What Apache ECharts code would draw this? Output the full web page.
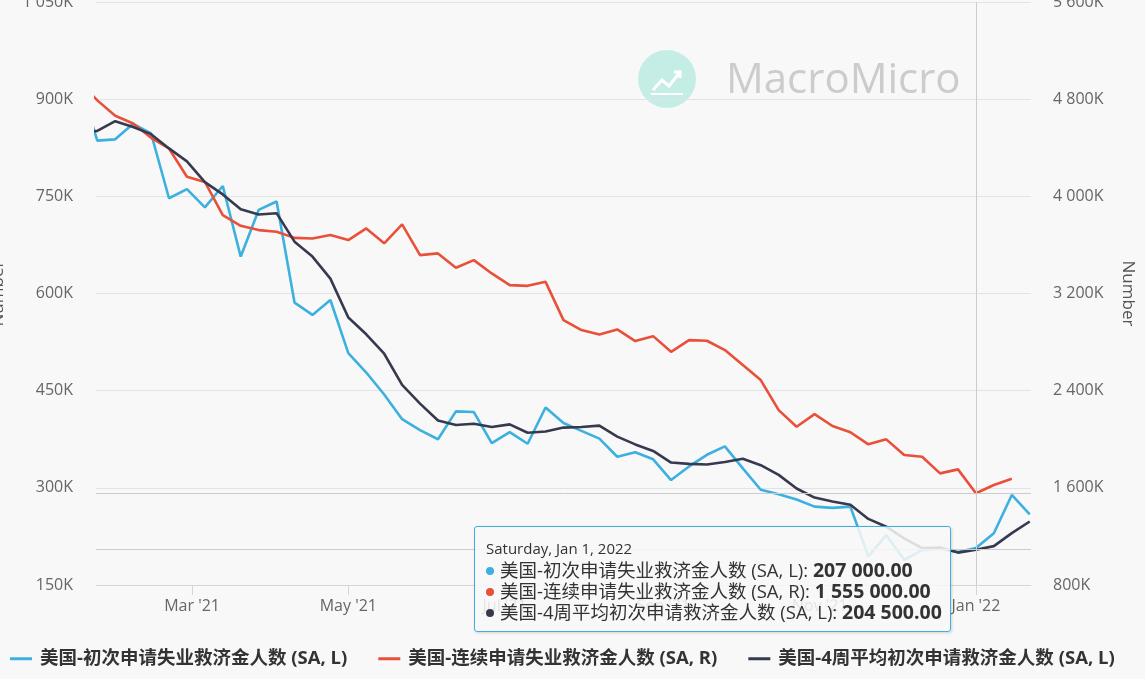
<!DOCTYPE html>
<html>
<head>
<meta charset="utf-8">
<script src="https://cdn.jsdelivr.net/npm/echarts@6/dist/echarts.min.js"></script>
<style>
html,body{margin:0;padding:0;background:#f8f8f8;}
#chart{width:1145px;height:679px;}
</style>
</head>
<body>
<div id="chart"></div>
<script>
// ---- data (values in thousands) ----
const dates = ['2021-01-16','2021-01-23','2021-01-30','2021-02-06','2021-02-13','2021-02-20','2021-02-27','2021-03-06','2021-03-13','2021-03-20','2021-03-27','2021-04-03','2021-04-10','2021-04-17','2021-04-24','2021-05-01','2021-05-08','2021-05-15','2021-05-22','2021-05-29','2021-06-05','2021-06-12','2021-06-19','2021-06-26','2021-07-03','2021-07-10','2021-07-17','2021-07-24','2021-07-31','2021-08-07','2021-08-14','2021-08-21','2021-08-28','2021-09-04','2021-09-11','2021-09-18','2021-09-25','2021-10-02','2021-10-09','2021-10-16','2021-10-23','2021-10-30','2021-11-06','2021-11-13','2021-11-20','2021-11-27','2021-12-04','2021-12-11','2021-12-18','2021-12-25','2022-01-01','2022-01-08','2022-01-15','2022-01-22'];
const initialClaims = [926,836,838,862,847,747,761,733,766,657,729,742,586,567,590,508,478,444,406,389,375,418,417,369,386,368,424,400,388,376,348,355,344,312,333,351,364,330,297,290,282,271,269,271,194,227,189,204,206,201,207,230,289,259];
const continuingClaims = [4950,4790,4663,4600,4482,4394,4161,4119,3845,3757,3722,3708,3658,3653,3681,3640,3736,3613,3769,3516,3530,3412,3475,3365,3269,3263,3296,2981,2899,2863,2904,2808,2849,2720,2816,2811,2734,2611,2487,2240,2103,2207,2109,2058,1958,1999,1870,1856,1719,1752,1555,1623,1675,null];
const avg4Week = [848,851,866,857,846,824,804,772,753,730,722,724,680,657,623,563,537,507,459,430,404,397,399,394,398,385,387,393,394,396,379,367,357,339,337,336,340,345,335,320,299,285,279,274,252,240,222,207,208,200,204.5,210,230,248];
const seriesNames = ['美国-初次申请失业救济金人数 (SA, L)','美国-连续申请失业救济金人数 (SA, R)','美国-4周平均初次申请救济金人数 (SA, L)'];
const xTickDates = ['2021-03-01','2021-05-01','2021-07-01','2021-09-01','2021-11-01','2022-01-01'];
const monthNames = ['Jan','Feb','Mar','Apr','May','Jun','Jul','Aug','Sep','Oct','Nov','Dec'];
const dayNames = ['Sunday','Monday','Tuesday','Wednesday','Thursday','Friday','Saturday'];
const xRange = ['2021-01-22T12:00','2022-01-22T12:00'];
const leftAxis = {min:150000, max:1050000, interval:150000};
const rightAxis = {min:800000, max:5600000, interval:800000};
const tooltipDate = '2022-01-01';
const crossLeft = 204500, crossRight = 1555000;

// ---- helpers ----
function ts(s){
  const [d,t] = s.split('T'); const [y,m,dd] = d.split('-').map(Number);
  let h=0, mi=0; if(t){[h,mi]=t.split(':').map(Number);}
  return Date.UTC(y,m-1,dd,h,mi);
}
function sep(n){ return String(n).replace(/\B(?=(\d{3})+(?!\d))/g,' '); }
function pair(arr){ return dates.map((d,i)=>[ts(d), arr[i]==null?null:arr[i]*1000]); }

const FONT = "'Open Sans','Noto Sans CJK SC',sans-serif";
const colors = ['#3cb0de','#e9503a','#373a4f'];

const chart = echarts.init(document.getElementById('chart'));
const option = {
  backgroundColor:'#f8f8f8',
  animation:false,
  textStyle:{fontFamily:FONT},
  color:colors,
  grid:{left:96, right:114, top:2, bottom:94, containLabel:false, outerBoundsMode:'none'},
  legend:{
    bottom:6, left:5, itemWidth:22, itemHeight:3, itemGap:31, icon:'rect',
    textStyle:{fontFamily:FONT, fontSize:18.5, fontWeight:'bold', color:'#333', padding:[0,0,0,3]},
    data:seriesNames
  },
  tooltip:{
    trigger:'axis', alwaysShowContent:true, transitionDuration:0, showDelay:0, hideDelay:0,
    position:[474,526],
    backgroundColor:'rgba(248,248,248,0.86)', borderColor:'#3cb0de', borderWidth:1, borderRadius:3,
    padding:[10,8,9,11],
    extraCssText:'box-shadow:1px 1px 3px rgba(0,0,0,0.15);',
    axisPointer:{type:'line', snap:true, lineStyle:{color:'#cccccc', width:1, type:'solid'}, label:{show:false}},
    formatter:function(params){
      const d = new Date(params[0].value[0]);
      let s = '<div style="font-size:15px;line-height:22px;color:#333">'+dayNames[d.getUTCDay()]+', '+monthNames[d.getUTCMonth()]+' '+d.getUTCDate()+', '+d.getUTCFullYear()+'</div>';
      params.forEach(p=>{
        if(p.value[1]==null) return;
        s += '<div style="font-size:18.5px;line-height:21px;color:#333"><span style="display:inline-block;width:8px;height:8px;border-radius:4px;background:'+p.color+';margin-right:6px;vertical-align:middle;position:relative;top:-1px"></span>'+p.seriesName+': <b style="font-size:19.5px">'+sep(Math.round(p.value[1]))+'.00</b></div>';
      });
      return s;
    }
  },
  xAxis:{
    type:'value', min:ts(xRange[0]), max:ts(xRange[1]),
    axisLine:{lineStyle:{color:'#d6d6d6'}},
    axisTick:{show:true, length:10, lineStyle:{color:'#d6d6d6'}, customValues:xTickDates.map(ts)},
    splitLine:{show:false},
    axisLabel:{
      customValues:xTickDates.map(ts), margin:13, fontSize:16, color:'#666', fontFamily:FONT,
      formatter:function(v){ const d=new Date(v); return monthNames[d.getUTCMonth()]+" '"+String(d.getUTCFullYear()).slice(2); }
    }
  },
  yAxis:[
    {type:'value', min:leftAxis.min, max:leftAxis.max, interval:leftAxis.interval, position:'left',
     name:'Number', nameLocation:'middle', nameGap:89, nameTextStyle:{fontSize:17, color:'#555', fontFamily:FONT},
     axisLine:{show:false}, axisTick:{show:false},
     splitLine:{lineStyle:{color:'#e3e3e3', width:1}},
     axisLabel:{margin:23, fontSize:16, color:'#666', fontFamily:FONT, formatter:v=>sep(v/1000)+'K'}},
    {type:'value', min:rightAxis.min, max:rightAxis.max, interval:rightAxis.interval, position:'right',
     name:'Number', nameLocation:'middle', nameGap:88, nameRotate:-90, nameTextStyle:{fontSize:17, color:'#555', fontFamily:FONT},
     axisLine:{show:false}, axisTick:{show:false}, splitLine:{show:false},
     axisLabel:{margin:22, fontSize:16, color:'#666', fontFamily:FONT, formatter:v=>sep(v/1000)+'K'}}
  ],
  graphic:[
    {type:'group', left:638, top:50, silent:true, z:0, children:[
      {type:'circle', shape:{cx:29, cy:29, r:29}, style:{fill:'#c4eee5'}},
      {type:'polyline', shape:{points:[[15,40],[24,30],[31,36],[42,22]]}, style:{stroke:'#fff', lineWidth:3, fill:null}},
      {type:'polyline', shape:{points:[[36,22],[42,22],[42,28]]}, style:{stroke:'#fff', lineWidth:3, fill:null}},
      {type:'line', shape:{x1:13, y1:44, x2:45, y2:44}, style:{stroke:'#fff', lineWidth:2}}
    ]},
    {type:'text', left:726, top:60, silent:true, z:0,
     style:{text:'MacroMicro', font:'42px '+FONT, fill:'#cccccc'}}
  ],
  series:[
    {name:seriesNames[0], type:'line', yAxisIndex:0, data:pair(initialClaims), symbol:'none', lineStyle:{width:2.6}, z:3,
     emphasis:{disabled:true},
     markLine:{silent:true, symbol:'none', label:{show:false}, lineStyle:{color:'#cccccc', width:1, type:'solid'}, data:[{yAxis:crossLeft}]}},
    {name:seriesNames[1], type:'line', yAxisIndex:1, data:pair(continuingClaims), symbol:'none', lineStyle:{width:2.6}, z:3,
     emphasis:{disabled:true},
     markLine:{silent:true, symbol:'none', label:{show:false}, lineStyle:{color:'#cccccc', width:1, type:'solid'}, data:[{yAxis:crossRight}]}},
    {name:seriesNames[2], type:'line', yAxisIndex:0, data:pair(avg4Week), symbol:'none', lineStyle:{width:2.6}, z:3,
     emphasis:{disabled:true}}
  ]
};
chart.setOption(option);
const px = chart.convertToPixel({xAxisIndex:0}, ts(tooltipDate));
chart.dispatchAction({type:'showTip', x:px, y:300});
</script>
</body>
</html>
